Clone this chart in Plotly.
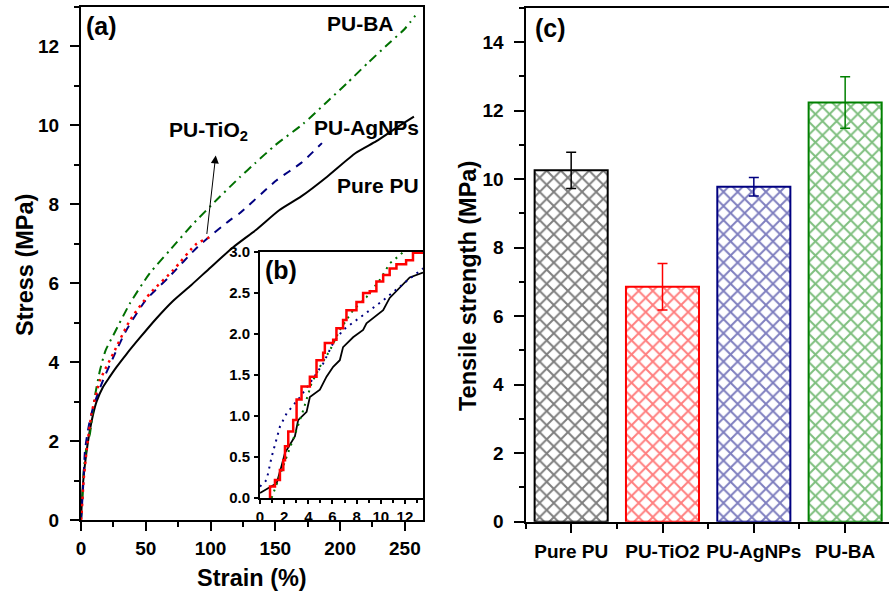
import plotly.graph_objects as go

# ---------------- data: panel (a) stress-strain curves ----------------
pure_x = [0, 0.5, 1.5, 3, 5, 7, 9.5, 12, 17, 22, 27.5, 35, 45, 58, 71, 85, 100, 117, 135, 153, 170, 190, 212, 228, 244, 257]
pure_y = [0, 0.35, 0.9, 1.4, 1.9, 2.3, 2.7, 3.0, 3.37, 3.62, 3.88, 4.2, 4.6, 5.1, 5.55, 5.95, 6.4, 6.9, 7.35, 7.85, 8.2, 8.7, 9.3, 9.6, 9.95, 10.22]

ag_x = [0, 1, 1.8, 3.1, 5, 7, 9.5, 13, 17, 25, 35, 50, 68, 90, 115, 122, 151, 170, 186]
ag_y = [0, 0.5, 0.93, 1.77, 2.2, 2.55, 2.87, 3.2, 3.54, 4.13, 4.81, 5.57, 6.16, 6.92, 7.6, 7.76, 8.61, 9.05, 9.55]

ba_x = [0, 1, 2, 4, 6.9, 10, 14.7, 19, 24.9, 37.8, 53, 68.7, 86.7, 105, 122.7, 134, 150, 171.5, 190, 205, 222, 238.4, 250, 258]
ba_y = [0, 0.5, 1.2, 1.8, 2.19, 3.0, 3.8, 4.3, 4.68, 5.49, 6.25, 6.84, 7.51, 8.12, 8.69, 9.03, 9.5, 10.04, 10.6, 11.06, 11.6, 12.1, 12.45, 12.78]

ti_x = [0, 0.5, 2, 4.4, 8.2, 14.7, 24.9, 37.8, 53.2, 71.2, 89.3, 102]
ti_y = [0, 0.17, 1.0, 1.77, 2.70, 3.54, 4.22, 5.06, 5.74, 6.33, 7.0, 7.2]

# ---------------- data: panel (b) inset, low strain ----------------
in_pure_x = [0, 1.38, 1.8, 2.07, 2.89, 3.1, 3.16, 3.86, 4.13, 4.96, 5.51, 6.06, 6.61, 6.88, 7.71, 8.54, 8.82, 10.2, 10.74, 12.4, 13.5]
in_pure_y = [0.06, 0.18, 0.4, 0.55, 0.75, 0.9, 0.95, 1.05, 1.23, 1.32, 1.48, 1.60, 1.68, 1.84, 1.96, 2.05, 2.13, 2.29, 2.44, 2.69, 2.75]

in_ti_x = [0.83, 0.83, 1.24, 1.65, 1.93, 2.07, 2.34, 2.75, 3.03, 3.44, 4.13, 4.68, 5.23, 5.37, 6.06, 6.33, 6.88, 7.16, 7.99, 8.54, 9.09, 9.64, 10.2, 10.74, 11.3, 12.1, 12.67, 13.5]
in_ti_y = [0, 0.14, 0.22, 0.34, 0.46, 0.63, 0.81, 0.95, 1.20, 1.36, 1.48, 1.68, 1.77, 1.89, 1.93, 2.07, 2.17, 2.29, 2.39, 2.50, 2.52, 2.64, 2.72, 2.80, 2.85, 2.90, 2.99, 3.05]

in_ag_x = [0, 0.55, 0.96, 1.65, 2.2, 3.31, 4.13, 5.23, 6.06, 6.88, 7.99, 9.09, 10.2, 12.1, 13.5]
in_ag_y = [0.14, 0.22, 0.50, 0.87, 1.03, 1.23, 1.40, 1.64, 1.89, 2.05, 2.17, 2.29, 2.41, 2.64, 2.80]

in_ba_x = [0.96, 1.2, 1.65, 2.2, 3.03, 3.58, 4.27, 4.96, 5.79, 6.61, 7.71, 8.82, 9.92, 10.74, 11.57, 12.0]
in_ba_y = [0, 0.1, 0.26, 0.50, 0.83, 1.07, 1.40, 1.60, 1.80, 2.05, 2.29, 2.45, 2.66, 2.86, 2.96, 3.02]

# ---------------- data: panel (c) tensile strength ----------------
categories = ["Pure PU", "PU-TiO2", "PU-AgNPs", "PU-BA"]
strength = [10.26, 6.86, 9.78, 12.24]
strength_err = [0.53, 0.68, 0.27, 0.75]
bar_colors = ["#000000", "#FF0000", "#000080", "#008000"]

FONT = "Liberation Sans, Arial, sans-serif"
BLACK = "#000000"

fig = go.Figure()

# panel (a)
fig.add_trace(go.Scatter(x=pure_x, y=pure_y, mode="lines", line=dict(color="#000000", width=2, shape="spline", smoothing=0.6), xaxis="x", yaxis="y"))
fig.add_trace(go.Scatter(x=ba_x, y=ba_y, mode="lines", line=dict(color="#007000", width=2, dash="9px,5px,2px,5px", shape="spline", smoothing=0.6), xaxis="x", yaxis="y"))
fig.add_trace(go.Scatter(x=ag_x, y=ag_y, mode="lines", line=dict(color="#000080", width=2, dash="8px,7px", shape="spline", smoothing=0.6), xaxis="x", yaxis="y"))
fig.add_trace(go.Scatter(x=ti_x, y=ti_y, mode="lines", line=dict(color="#FF0000", width=2.5, dash="2.5px,4.5px", shape="spline", smoothing=0.6), xaxis="x", yaxis="y"))

# panel (b) inset
fig.add_trace(go.Scatter(x=in_pure_x, y=in_pure_y, mode="lines", line=dict(color="#000000", width=1.8), xaxis="x2", yaxis="y2"))
fig.add_trace(go.Scatter(x=in_ag_x, y=in_ag_y, mode="lines", line=dict(color="#000080", width=2, dash="2px,5px"), xaxis="x2", yaxis="y2"))
fig.add_trace(go.Scatter(x=in_ba_x, y=in_ba_y, mode="lines", line=dict(color="#007000", width=2, dash="2px,5px"), xaxis="x2", yaxis="y2"))
fig.add_trace(go.Scatter(x=in_ti_x, y=in_ti_y, mode="lines", line=dict(color="#FF0000", width=2.5, shape="hv"), xaxis="x2", yaxis="y2"))

# panel (c)
for i, (cat, val, err, col) in enumerate(zip(categories, strength, strength_err, bar_colors)):
    fig.add_trace(go.Bar(
        x=[i], y=[val], width=0.8, name=cat,
        marker=dict(color="white", line=dict(color=col, width=2),
                    pattern=dict(shape="x", fgcolor=col, bgcolor="white", size=10, solidity=0.36)),
        error_y=dict(type="data", array=[err], color=col, thickness=1.5, width=5),
        xaxis="x3", yaxis="y3"))

tickfont = dict(family=FONT, size=19, color=BLACK, weight="bold")
inset_font = dict(family=FONT, size=15, color=BLACK, weight="bold")

common = dict(showgrid=False, zeroline=False, showline=True, linecolor=BLACK, linewidth=2,
              ticks="outside", tickcolor=BLACK, tickwidth=2, automargin=False)

fig.update_layout(
    width=889, height=594,
    margin=dict(l=0, r=0, t=0, b=0),
    paper_bgcolor="white", plot_bgcolor="white",
    showlegend=False, barmode="overlay",
    xaxis=dict(domain=[81/889, 423/889], range=[0, 264], anchor="y", dtick=50, tick0=0,
               ticklen=9, mirror=True, tickfont=tickfont, ticklabelstandoff=1,
               minor=dict(dtick=25, tick0=0, ticklen=5, ticks="outside", tickcolor=BLACK, tickwidth=2), **common),
    yaxis=dict(domain=[(594-520)/594, (594-7)/594], range=[0, 13], anchor="x", dtick=2, tick0=0,
               ticklen=9, mirror=True, tickfont=tickfont, ticklabelstandoff=7,
               minor=dict(dtick=1, tick0=0, ticklen=5, ticks="outside", tickcolor=BLACK, tickwidth=2), **common),
    xaxis2=dict(domain=[260/889, 423/889], range=[0, 13.5], anchor="y2", dtick=2, tick0=0,
                ticklen=4, mirror=True, tickfont=inset_font, ticklabelstandoff=0,
                minor=dict(dtick=1, tick0=0, ticklen=3, ticks="outside", tickcolor=BLACK, tickwidth=1.5), **common),
    yaxis2=dict(domain=[(594-498)/594, (594-252)/594], range=[0, 3], anchor="x2", dtick=0.5, tick0=0,
                tickformat=".1f", ticklen=4, mirror=True, tickfont=inset_font, ticklabelstandoff=1, **common),
    xaxis3=dict(domain=[525.5/889, 1.0], range=[-0.5, 3.48], anchor="y3",
                tickmode="array", tickvals=list(range(len(categories))), ticktext=categories,
                ticklen=9, mirror=True, tickfont=tickfont, ticklabelstandoff=2,
                minor=dict(tickvals=[-0.5, 0.5, 1.5, 2.5], ticklen=5, ticks="outside", tickcolor=BLACK, tickwidth=2), **common),
    yaxis3=dict(domain=[(594-521.7)/594, (594-8)/594], range=[0, 15], anchor="x3", dtick=2, tick0=0,
                ticklen=10, mirror=False, tickfont=tickfont, ticklabelstandoff=6,
                minor=dict(dtick=1, tick0=0, ticklen=5, ticks="outside", tickcolor=BLACK, tickwidth=2), **common),
)

lab = dict(family=FONT, size=21, color=BLACK, weight="bold")
title_font = dict(family=FONT, size=23.5, color=BLACK, weight="bold")
panel = dict(family=FONT, size=25, color=BLACK, weight="bold")
cm = dict(showarrow=False, xanchor="center", yanchor="middle")

annotations = [
    # axis titles
    dict(text="Stress (MPa)", x=25/889, y=1-265/594, xref="paper", yref="paper", textangle=-90, font=title_font, **cm),
    dict(text="Strain (%)", x=252/889, y=1-578/594, xref="paper", yref="paper", font=title_font, **cm),
    dict(text="Tensile strength (MPa)", x=468/889, y=1-286/594, xref="paper", yref="paper", textangle=-90, font=title_font, **cm),
    # panel labels
    dict(text="(a)", x=16.2, y=12.53, xref="x", yref="y", font=panel, **cm),
    dict(text="(b)", x=1.74, y=2.78, xref="x2", yref="y2", font=panel, **cm),
    dict(text="(c)", x=550/889, y=1-28/594, xref="paper", yref="paper", font=panel, **cm),
    # curve labels
    dict(text="PU-BA", x=216, y=12.58, xref="x", yref="y", font=lab, **cm),
    dict(text="PU-TiO<sub>2</sub>", x=98.8, y=9.85, xref="x", yref="y", font=lab, **cm),
    dict(text="PU-AgNPs", x=220, y=9.95, xref="x", yref="y", font=lab, **cm),
    dict(text="Pure PU", x=229, y=8.48, xref="x", yref="y", font=lab, **cm),
    # arrow
    dict(text="", x=104, y=9.24, ax=97, ay=7.21, xref="x", yref="y", axref="x", ayref="y",
         showarrow=True, arrowhead=2, arrowsize=1.6, arrowwidth=1, arrowcolor=BLACK),
]
fig.update_layout(annotations=annotations)

fig.write_html("out.html")
